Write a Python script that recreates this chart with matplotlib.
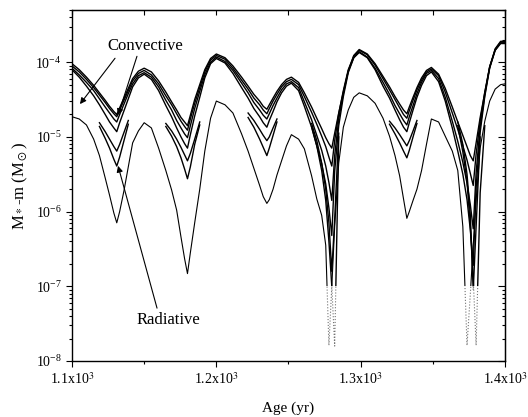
import numpy as np
import matplotlib.pyplot as plt
from matplotlib.patches import Rectangle
from matplotlib.ticker import MultipleLocator, NullFormatter, LogLocator
from matplotlib.transforms import blended_transform_factory

plt.rcParams['font.family'] = 'Liberation Serif'
plt.rcParams['mathtext.fontset'] = 'stix'

nan = np.nan

# age grid (yr), one row per pulsation cycle
age = [1100, 1105, 1110, 1115, 1119, 1123, 1126, 1129, 1131, 1133, 1136, 1139, 1142, 1146, 1150,
       1155, 1160, 1165, 1169, 1172.5, 1175.5, 1178, 1180, 1182, 1185, 1188.5, 1192, 1196, 1200,
       1206, 1211.5, 1217.5, 1222, 1226, 1230, 1232.5, 1235, 1236.7, 1239.3, 1242, 1245.2, 1248.6, 1252,
       1257, 1261, 1266, 1269.6, 1273, 1275.8, 1278, 1280, 1282, 1284.8, 1288, 1291.4, 1295.2, 1299,
       1304.6, 1310, 1315.5, 1320, 1323.8, 1327, 1329.7, 1332, 1333.7, 1336.3, 1339, 1342.2, 1345.6, 1349,
       1354, 1358.6, 1363.5, 1367.3, 1370.8, 1373.7, 1376, 1378, 1380, 1382.8, 1386, 1389.4, 1393.2, 1397, 1400]

# log10 of M*-m (Msun), convective boundaries
log_conv1 = [-4.02, -4.10, -4.20, -4.31, -4.41, -4.51, -4.59, -4.66, -4.70, -4.61, -4.48, -4.35, -4.22, -4.12, -4.08,
             -4.13, -4.25, -4.40, -4.53, -4.64, -4.74, -4.80, -4.85, -4.71, -4.50, -4.30, -4.10, -3.95, -3.89,
             -3.94, -4.05, -4.20, -4.32, -4.43, -4.52, -4.59, -4.63, -4.57, -4.48, -4.39, -4.30, -4.23, -4.20,
             -4.27, -4.41, -4.60, -4.75, -4.89, -5.01, -5.09, -5.15, -4.95, -4.68, -4.40, -4.12, -3.91, -3.83,
             -3.89, -4.02, -4.19, -4.33, -4.46, -4.56, -4.64, -4.69, -4.60, -4.47, -4.34, -4.21, -4.11, -4.07,
             -4.16, -4.35, -4.60, -4.80, -4.98, -5.13, -5.25, -5.32, -5.08, -4.74, -4.41, -4.07, -3.82, -3.72, -3.72]
log_conv2 = [-4.05, -4.13, -4.23, -4.34, -4.44, -4.54, -4.62, -4.69, -4.73, -4.64, -4.51, -4.38, -4.25, -4.15, -4.11,
             -4.17, -4.29, -4.45, -4.57, -4.69, -4.79, -4.86, -4.91, -4.76, -4.55, -4.34, -4.13, -3.97, -3.91,
             -3.96, -4.08, -4.24, -4.36, -4.48, -4.57, -4.64, -4.69, -4.62, -4.52, -4.43, -4.33, -4.26, -4.23,
             -4.30, -4.46, -4.67, -4.83, -4.99, -5.13, -5.27, -5.39, -5.05, -4.69, -4.38, -4.10, -3.92, -3.84,
             -3.90, -4.04, -4.22, -4.37, -4.50, -4.61, -4.70, -4.75, -4.65, -4.51, -4.37, -4.24, -4.13, -4.09,
             -4.18, -4.40, -4.68, -4.90, -5.12, -5.31, -5.49, -5.65, -5.23, -4.79, -4.40, -4.06, -3.83, -3.73, -3.73]
log_conv3 = [-4.08, -4.17, -4.27, -4.38, -4.49, -4.60, -4.68, -4.76, -4.80, -4.70, -4.56, -4.42, -4.29, -4.18, -4.14,
             -4.20, -4.33, -4.51, -4.64, -4.78, -4.88, -4.96, -5.01, -4.85, -4.62, -4.39, -4.17, -4.00, -3.93,
             -3.99, -4.11, -4.28, -4.41, -4.54, -4.64, -4.71, -4.76, -4.69, -4.58, -4.48, -4.37, -4.29, -4.26,
             -4.34, -4.53, -4.77, -4.98, -5.18, -5.39, -5.61, -5.85, -5.25, -4.76, -4.42, -4.12, -3.94, -3.86,
             -3.93, -4.08, -4.27, -4.43, -4.58, -4.69, -4.78, -4.84, -4.73, -4.58, -4.42, -4.27, -4.15, -4.11,
             -4.22, -4.47, -4.79, -5.06, -5.34, -5.62, -5.91, -6.23, -5.48, -4.86, -4.44, -4.06, -3.84, -3.74, -3.74]
log_conv4 = [-4.10, -4.20, -4.32, -4.45, -4.57, -4.70, -4.80, -4.88, -4.93, -4.81, -4.65, -4.49, -4.33, -4.21, -4.16,
             -4.23, -4.38, -4.58, -4.73, -4.88, -5.00, -5.09, -5.15, -4.97, -4.72, -4.47, -4.21, -4.02, -3.95,
             -4.01, -4.15, -4.34, -4.48, -4.62, -4.73, -4.81, -4.87, -4.78, -4.66, -4.53, -4.41, -4.32, -4.28,
             -4.38, -4.59, -4.87, -5.12, -5.36, -5.63, -5.95, -6.32, -5.46, -4.85, -4.46, -4.14, -3.94, -3.87,
             -3.94, -4.10, -4.32, -4.48, -4.64, -4.77, -4.87, -4.93, -4.81, -4.64, -4.47, -4.31, -4.18, -4.13,
             -4.26, -4.52, -4.88, -5.19, -5.50, -5.84, -6.25, -6.72, -5.68, -4.94, -4.46, -4.08, -3.84, -3.75, -3.75]

# radiative boundaries: short branches around each minimum and the lowest continuous curve
log_rad1 = [nan, nan, nan, nan, -4.81, -4.93, -5.03, -5.13, -5.19, -5.10, -4.94, -4.78, nan, nan, nan,
            nan, nan, -4.82, -4.92, -5.03, -5.14, -5.24, -5.32, -5.22, -5.03, -4.80, nan, nan, nan,
            nan, nan, nan, -4.68, -4.78, -4.90, -4.98, -5.05, -5.00, -4.88, -4.76, nan, nan, nan,
            nan, nan, -4.82, -5.05, -5.35, -5.70, -6.15, -6.80, -6.10, -4.95, nan, nan, nan, nan,
            nan, nan, nan, -4.79, -4.88, -4.97, -5.05, -5.12, -5.05, -4.92, -4.78, nan, nan, nan,
            nan, nan, nan, -4.80, -5.10, -5.50, -6.05, -7.05, -6.20, -5.00, nan, nan, nan, nan, nan]
log_rad2 = [nan, nan, nan, nan, -4.86, -5.02, -5.15, -5.30, -5.39, -5.27, -5.05, -4.83, nan, nan, nan,
            nan, nan, -4.86, -4.99, -5.13, -5.28, -5.43, -5.56, -5.40, -5.10, -4.84, nan, nan, nan,
            nan, nan, nan, -4.74, -4.87, -5.03, -5.14, -5.25, -5.15, -4.98, -4.80, nan, nan, nan,
            nan, nan, -4.86, -5.12, -5.45, -5.85, -6.40, -7.00, -7.80, -5.00, nan, nan, nan, nan,
            nan, nan, nan, -4.83, -4.96, -5.08, -5.19, -5.28, -5.18, -5.00, -4.82, nan, nan, nan,
            nan, nan, nan, -4.85, -5.20, -5.60, -6.20, -6.90, -7.79, -5.75, -4.85, nan, nan, nan, nan]
log_rad0 = [-4.73, -4.76, -4.84, -5.03, -5.25, -5.55, -5.78, -6.02, -6.15, -6.00, -5.72, -5.40, -5.08, -4.92, -4.81,
            -4.88, -5.15, -5.45, -5.71, -5.98, -6.34, -6.63, -6.83, -6.55, -6.15, -5.70, -5.19, -4.75, -4.52,
            -4.57, -4.68, -4.96, -5.19, -5.42, -5.65, -5.80, -5.89, -5.84, -5.70, -5.51, -5.32, -5.12, -4.97,
            -5.03, -5.16, -5.52, -5.83, -6.05, -6.45, -7.79, -7.00, -6.20, -5.35, -4.87, -4.64, -4.47, -4.41,
            -4.45, -4.55, -4.75, -4.99, -5.25, -5.52, -5.83, -6.09, -6.00, -5.85, -5.70, -5.45, -5.10, -4.76,
            -4.80, -4.99, -5.19, -5.45, -6.20, -7.79, -7.10, -6.45, -5.85, -5.15, -4.79, -4.52, -4.36, -4.30, -4.29]

xtick_vals = [1100, 1200, 1300, 1400]
xtick_labels = ['1.1x10$^3$', '1.2x10$^3$', '1.3x10$^3$', '1.4x10$^3$']

fig = plt.figure(figsize=(5.28, 4.17), dpi=100)
ax = fig.add_axes([0.1364, 0.1343, 0.820, 0.8417])
ax.set_yscale('log')
ax.set_xlim(1100, 1400)
ax.set_ylim(1e-8, 5e-4)

# lines below ~1e-7 are drawn dotted grey
trans = blended_transform_factory(ax.transAxes, ax.transData)
thr = 1e-7
upper = Rectangle((0, thr), 1, 1.0, transform=trans)
lower = Rectangle((0, 1e-12), 1, thr - 1e-12, transform=trans)

def draw(vals, lw):
    y = 10.0 ** np.array(vals)
    solid, = ax.plot(age, y, color='black', lw=lw, solid_joinstyle='round')
    solid.set_clip_path(upper)
    dots, = ax.plot(age, y, color='0.45', lw=0.8, ls=':')
    dots.set_clip_path(lower)

for v in [log_conv1, log_conv2, log_conv3, log_conv4, log_rad1, log_rad2]:
    draw(v, 1.0)
draw(log_rad0, 0.8)

# labels with arrows
arw = dict(arrowstyle='-|>', color='black', lw=0.8, mutation_scale=9, shrinkA=0, shrinkB=0)
ax.text(1150.6, 1.63e-4, 'Convective', ha='center', va='center', fontsize=12)
ax.annotate('', xy=(1105.5, 2.75e-5), xytext=(1129.8, 1.13e-4), arrowprops=arw)
ax.annotate('', xy=(1131.9, 1.96e-5), xytext=(1145.0, 1.2e-4), arrowprops=arw)
ax.text(1166.5, 3.5e-8, 'Radiative', ha='center', va='center', fontsize=12)
ax.annotate('', xy=(1131.9, 4.1e-6), xytext=(1158.9, 5.1e-8), arrowprops=arw)

ax.set_xticks(xtick_vals)
ax.set_xticklabels(xtick_labels)
ax.xaxis.set_minor_locator(MultipleLocator(50))
ax.tick_params(which='both', direction='out', top=False, right=False, labelsize=10, width=0.8)
ax.tick_params(which='major', length=4)
ax.tick_params(which='minor', length=2.5)
for s in ax.spines.values():
    s.set_linewidth(1.0)

secx = ax.secondary_xaxis('top')
secx.set_xticks(xtick_vals)
secx.xaxis.set_minor_locator(MultipleLocator(50))
secx.xaxis.set_major_formatter(NullFormatter())
secx.tick_params(which='both', direction='in', length=3.5, width=0.8, labeltop=False)

secy = ax.secondary_yaxis('right')
secy.yaxis.set_major_locator(LogLocator(base=10))
secy.yaxis.set_minor_locator(LogLocator(base=10, subs=np.arange(2, 10)))
secy.yaxis.set_major_formatter(NullFormatter())
secy.yaxis.set_minor_formatter(NullFormatter())
secy.tick_params(which='major', direction='in', length=5, width=0.8, labelright=False)
secy.tick_params(which='minor', direction='in', length=2.5, width=0.8, labelright=False)

ax.set_xlabel('Age (yr)', fontsize=11, labelpad=10)
ax.set_ylabel(r'M$_*$-m (M$_\odot$)', fontsize=12, labelpad=4)

fig.savefig('out.png', dpi=100)
